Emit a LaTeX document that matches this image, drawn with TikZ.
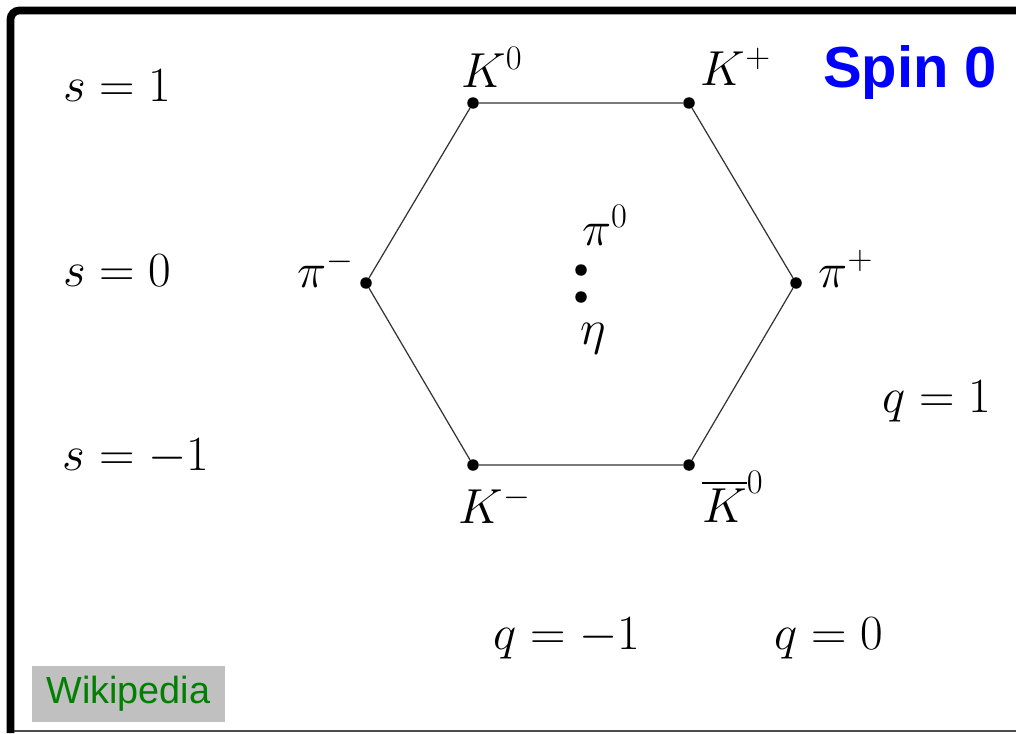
\RequirePackage{fix-cm}
\documentclass[tikz,border=0pt]{standalone}
\usepackage{fontspec}
\usepackage{amsmath}
\newfontfamily\labelsans{Liberation Sans}
\usetikzlibrary{positioning}

\definecolor{spinblue}{RGB}{0,0,255}
\definecolor{wikigreen}{RGB}{0,128,0}
\definecolor{wikigray}{RGB}{192,192,192}

\tikzset{
  meson/.style={circle, fill=black, inner sep=0pt, minimum size=0.23cm},
  mlabel/.style={font=\fontsize{28}{33}\selectfont, inner sep=0pt},
  qnum/.style={font=\fontsize{28}{33}\selectfont, inner sep=0pt},
}

\begin{document}
\begin{tikzpicture}[x=0.02cm, y=-0.02cm]

\useasboundingbox (0,0) rectangle (1016,733);
\fill[white] (0,0) rectangle (1016,733);

% ================= FRAME =================
\draw[gray!60!black, line width=0.7pt] (10,731) -- (1016,731);
\draw[line width=4.4pt, rounded corners=5pt] (1016,10.5) -- (10.5,10.5) -- (10.5,733);

% ================= OCTET =================
\node[meson] (K0)   at (473,103) {};
\node[meson] (Kp)   at (689,103) {};
\node[meson] (pip)  at (796,283) {};
\node[meson] (K0b)  at (689,465) {};
\node[meson] (Km)   at (473,465) {};
\node[meson] (pim)  at (366,283) {};
\node[meson] (pi0)  at (581,270) {};
\node[meson] (eta)  at (581,297) {};

% Hexagon edges
\draw[black!80, line width=0.7pt] (K0) -- (Kp) -- (pip) -- (K0b) -- (Km) -- (pim) -- (K0);

% Particle labels
\node[mlabel] (lK0)  at (492,67)  {$K^0$};
\node[mlabel] (lKp)  at (736,67)  {$K^+$};
\node[mlabel] (lpim) at (326,269) {$\pi^-$};
\node[mlabel] (lpip) at (846,269) {$\pi^+$};
\node[mlabel] (lpi0) at (605,225) {$\pi^0$};
\node[mlabel] (leta) at (593,339) {$\eta$};
\node[mlabel] (lKm)  at (495,505) {$K^-$};
\node[mlabel] (lK0b) at (733,497) {$\overline{K}^0$};

% ================= QUANTUM NUMBERS =================
\node[qnum] (s1)  at (117,86)  {$s=1$};
\node[qnum] (s0)  at (117,271) {$s=0$};
\node[qnum] (sm1) at (136,457) {$s=-1$};
\node[qnum] (q1)  at (937,401) {$q=1$};
\node[qnum] (qm1) at (567,638) {$q=-1$};
\node[qnum] (q0)  at (829,638) {$q=0$};

% ================= TITLE / TAG =================
\node[font=\labelsans\bfseries\fontsize{33}{39}\selectfont, text=spinblue, inner sep=0pt] (title) at (910,73) {Spin 0};
\fill[wikigray] (32,666) rectangle (225,722);
\node[font=\labelsans\fontsize{21.5}{25}\selectfont, text=wikigreen, inner sep=0pt] (wiki) at (128.5,694) {Wikipedia};

\end{tikzpicture}
\end{document}
